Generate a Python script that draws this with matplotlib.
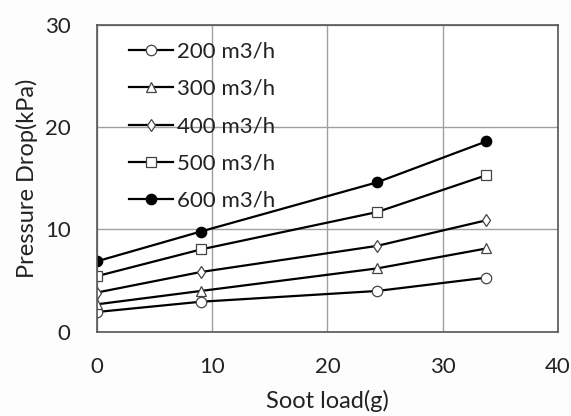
import numpy as np
import matplotlib.pyplot as plt

plt.rcParams['font.family'] = ['Lato', 'DejaVu Sans']

soot_load = [0, 9, 24.3, 33.8]
dp_200 = [1.95, 2.95, 4.0, 5.3]
dp_300 = [2.7, 4.0, 6.2, 8.15]
dp_400 = [3.85, 5.85, 8.4, 10.9]
dp_500 = [5.45, 8.05, 11.7, 15.3]
dp_600 = [6.9, 9.8, 14.6, 18.6]
labels = ['200 m3/h', '300 m3/h', '400 m3/h', '500 m3/h', '600 m3/h']

series = [dp_200, dp_300, dp_400, dp_500, dp_600]
markers = ['o', '^', 'd', 's', 'o']
faces = ['white', 'white', 'white', 'white', 'black']
sizes = [7.5, 7.5, 6.5, 7.5, 7.5]

fig = plt.figure(figsize=(5.71, 4.16), dpi=100)
ax = fig.add_axes([0.170, 0.202, 0.807, 0.739])

for y, lab, m, fc, ms in zip(series, labels, markers, faces, sizes):
    ax.plot(soot_load, y, color='black', lw=1.6, marker=m, ms=ms,
            mfc=fc, mec='black' if fc == 'black' else '#444444', mew=0.9, label=lab)

ax.set_xlim(0, 40)
ax.set_ylim(0, 30)
ax.set_xticks([0, 10, 20, 30, 40])
ax.set_yticks([0, 10, 20, 30])
ax.grid(True, color='#a0a0a0', lw=1.0)
ax.set_axisbelow(True)
for s in ax.spines.values():
    s.set_color('#555555')
    s.set_linewidth(1.2)
ax.tick_params(length=0, labelsize=16, labelcolor='#222222')
ax.tick_params(axis='x', pad=18)
ax.tick_params(axis='y', pad=19)
ax.set_xlabel('Soot load(g)', fontsize=17, labelpad=9, color='#222222')
ax.set_ylabel('Pressure Drop(kPa)', fontsize=17, labelpad=5, color='#222222')

leg = ax.legend(loc='upper left', bbox_to_anchor=(0.035, 0.995), frameon=False,
                fontsize=16, handlelength=2.0, handletextpad=0.15,
                labelspacing=0.78, borderaxespad=0.3)
for t in leg.get_texts():
    t.set_color('#222222')

fig.savefig('out.png', dpi=100, facecolor='#fdfdfd')
